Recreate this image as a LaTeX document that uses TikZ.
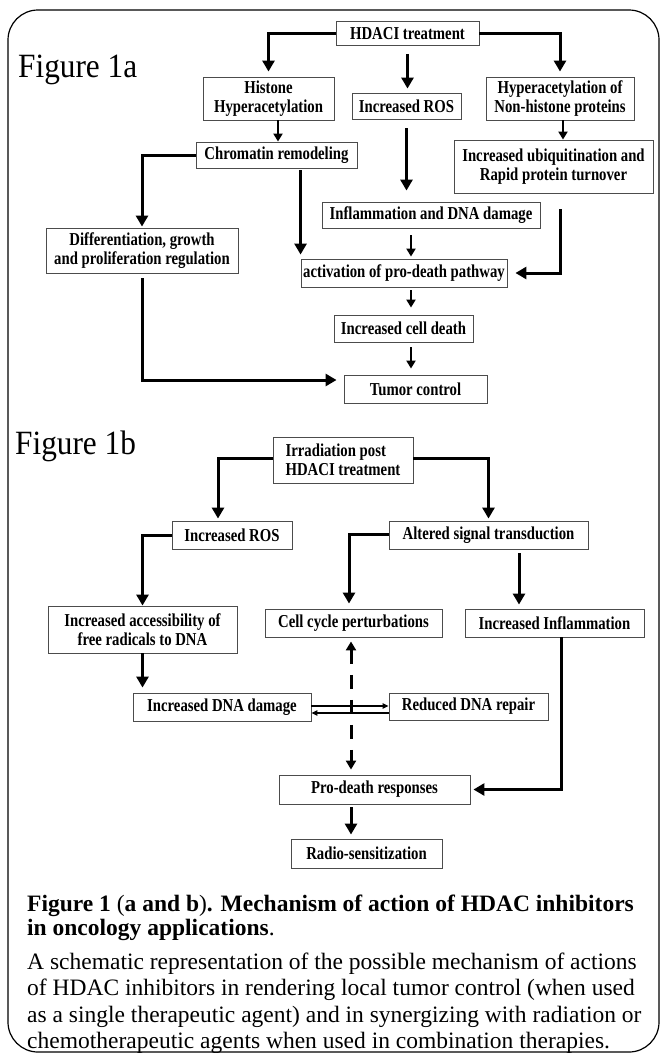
\documentclass[tikz,border=0pt]{standalone}
\usepackage{fontspec}
\setmainfont{Liberation Serif}
\newfontfamily\boxfont[FakeStretch=0.81]{Liberation Serif}
\newfontfamily\labfont[FakeStretch=0.92]{Liberation Serif}
\usetikzlibrary{arrows.meta}

\tikzset{
  box/.style={draw=black!70, line width=0.9pt, fill=white, inner sep=0pt, align=center,
    font=\boxfont\bfseries\fontsize{18.2}{19.5}\selectfont},
  arr/.style={line width=3pt, -{Triangle[length=11pt,width=12pt]}},
  sarr/.style={line width=2.4pt, -{Triangle[length=8pt,width=9pt]}},
  tarr/.style={line width=1.1pt, -{Triangle[length=6pt,width=5.5pt]}},
  darr/.style={line width=3pt, dash pattern=on 14pt off 11pt,
    {Triangle[length=9pt,width=10pt]}-{Triangle[length=9pt,width=10pt]}},
  figlab/.style={anchor=base west, inner sep=0pt, font=\labfont\fontsize{34}{36}\selectfont},
  capline/.style={anchor=base west, inner sep=0pt, font=\fontsize{23.5}{26}\selectfont},
}

\begin{document}
\begin{tikzpicture}[x=1pt,y=-1pt]
		\useasboundingbox (0,0) rectangle (662,1053);
		%%%%% FRAME %%%%%
		\draw[line width=1.2pt, rounded corners=30pt] (8,10) rectangle (659,1052);
		
		%%%%% FIGURE 1a %%%%%
		\node[figlab] (laba) at (18,77) {Figure 1a};
		
		\node[box, minimum width=143pt, minimum height=24pt] (hdaci) at (407.5,33.5) {HDACI treatment};
		\node[box, minimum width=131pt, minimum height=43pt] (hist) at (268.5,98.5) {Histone\\Hyperacetylation};
		\node[box, minimum width=109pt, minimum height=26pt] (ros1) at (406.5,106) {Increased ROS};
		\node[box, minimum width=148pt, minimum height=43pt] (nonhist) at (560,98.5) {Hyperacetylation of\\Non-histone proteins};
		\node[box, minimum width=161pt, minimum height=26pt] (chrom) at (276.5,155) {Chromatin remodeling};
		\node[box, minimum width=199pt, minimum height=53pt] (ubiq) at (553.5,166.5) {Increased ubiquitination and\\Rapid protein turnover};
		\node[box, minimum width=192pt, minimum height=45pt] (diff) at (142,250.5) {Differentiation, growth\\and proliferation regulation};
		\node[box, minimum width=218pt, minimum height=26pt] (infl1) at (431,215) {Inflammation and DNA damage};
		\node[box, minimum width=206pt, minimum height=28pt] (act) at (404,273) {activation of pro-death pathway};
		\node[box, minimum width=139pt, minimum height=27pt] (death) at (403.5,328.5) {Increased cell death};
		\node[box, minimum width=143pt, minimum height=28pt] (tumor) at (415.5,389) {Tumor control};
		
		\draw[arr, shorten >=5pt] (hdaci.west) -| (hist.north);
		\draw[arr, shorten >=5pt] (hdaci.east) -| (nonhist.north);
		\draw[arr, shorten <=8pt, shorten >=4pt] (hdaci.south) -- (hdaci.south |- ros1.north);
		\draw[sarr] ([xshift=9.5pt]hist.south) -- ([xshift=9.5pt]hist.south |- chrom.north);
		\draw[arr, shorten >=1pt] (chrom.west) -| (diff.north);
		\draw[arr, shorten <=2pt, shorten >=4pt] (chrom.south -| act.north west) -- (act.north west);
		\draw[arr, shorten <=9pt, shorten >=11pt] (ros1.south) -- (ros1.south |- infl1.north);
		\draw[sarr] ([xshift=3pt]nonhist.south) -- ([xshift=3pt]nonhist.south |- ubiq.north);
		\draw[arr, shorten >=8pt] ([xshift=6.5pt,yshift=-16pt]ubiq.south) |- (act.east);
		\draw[sarr, shorten <=7pt, shorten >=2pt] ([xshift=7pt]act.north |- infl1.south) -- ([xshift=7pt]act.north);
		\draw[sarr, shorten <=3pt, shorten >=7pt] ([xshift=7pt]act.south) -- ([xshift=7pt]act.south |- death.north);
		\draw[sarr, shorten <=5pt, shorten >=6pt] ([xshift=7pt]act.south |- death.south) -- ([xshift=7pt]act.south |- tumor.north);
		\draw[arr, shorten <=5pt, shorten >=7pt] (diff.south) |- ([yshift=9pt]tumor.west);
		
		%%%%% FIGURE 1b %%%%%
		\node[figlab] (labb) at (15,454) {Figure 1b};
		
		\node[box, align=left, minimum width=140pt, minimum height=46pt] (irr) at (343,460) {Irradiation post\\HDACI treatment};
		\node[box, minimum width=120pt, minimum height=28pt] (ros2) at (232,535) {Increased ROS};
		\node[box, minimum width=199pt, minimum height=28pt] (alt) at (488.5,535) {Altered signal transduction};
		\node[box, minimum width=189pt, minimum height=47pt] (acc) at (142.5,629.5) {Increased accessibility of\\free radicals to DNA};
		\node[box, minimum width=177pt, minimum height=28pt] (cycle) at (353.5,623) {Cell cycle perturbations};
		\node[box, minimum width=179pt, minimum height=28pt] (infl2) at (554.5,623) {Increased Inflammation};
		\node[box, minimum width=178pt, minimum height=28pt] (dna) at (222,707) {Increased DNA damage};
		\node[box, minimum width=159pt, minimum height=27pt] (repair) at (468.5,706.5) {Reduced DNA repair};
		\node[box, minimum width=191pt, minimum height=29pt] (prod) at (374.5,789.5) {Pro-death responses};
		\node[box, minimum width=151pt, minimum height=29pt] (radio) at (366.5,853.5) {Radio-sensitization};
		
		\draw[arr, shorten >=2pt] ([yshift=2pt]irr.west) -| ([xshift=-14pt]ros2.north);
		\draw[arr, shorten >=2pt] ([yshift=2pt]irr.east) -| (alt.north);
		\draw[arr] (ros2.west) -| (acc.north);
		\draw[arr, shorten >=5pt] ([yshift=1pt]alt.west) -| ([xshift=-4.5pt]cycle.north);
		\draw[arr, shorten <=4pt, shorten >=4pt] ([xshift=30.5pt]alt.south) -- ([xshift=30.5pt]alt.south |- infl2.north);
		\draw[arr, shorten >=5pt] (acc.south) -- (acc.south |- dna.north);
		\draw[tarr] ([yshift=1pt]dna.east) -- ([yshift=1pt]dna.east -| repair.west);
		\draw[tarr] ([yshift=-6pt]dna.east -| repair.west) -- ([yshift=-6pt]dna.east);
		\draw[darr, shorten <=4pt, shorten >=5pt] ([xshift=-2.5pt]cycle.south) -- ([xshift=-2.5pt]cycle.south |- prod.north);
		\draw[arr, shorten >=3pt] ([xshift=6.5pt]infl2.south) |- (prod.east);
		\draw[arr, shorten <=3pt, shorten >=4pt] ([xshift=-2.5pt]cycle.south |- prod.south) -- ([xshift=-2.5pt]cycle.south |- radio.north);
		
		%%%%% CAPTION %%%%%
		\node[capline] (cap1) at (27,911) {\textbf{Figure 1 }(\textbf{a and b})\textbf{. Mechanism of action of HDAC inhibitors}};
		\node[capline] (cap2) at (27,935) {\textbf{in oncology applications}.};
		\node[capline] (cap3) at (27,969) {A schematic representation of the possible mechanism of actions};
		\node[capline] (cap4) at (27,995.5) {of HDAC inhibitors in rendering local tumor control (when used};
		\node[capline] (cap5) at (27,1022) {as a single therapeutic agent) and in synergizing with radiation or};
		\node[capline] (cap6) at (27,1048) {chemotherapeutic agents when used in combination therapies.};
\end{tikzpicture}
\end{document}
